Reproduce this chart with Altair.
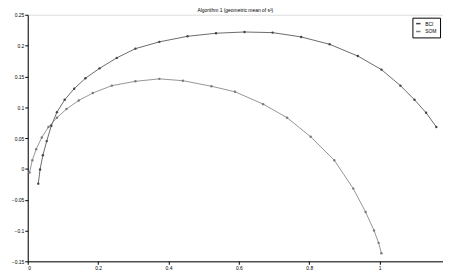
import altair as alt
import pandas as pd

series_names = ["BCI", "SOM"]

bci_x = [0.030, 0.035, 0.043, 0.054, 0.067, 0.083, 0.105, 0.132, 0.164, 0.204, 0.253, 0.306,
         0.374, 0.454, 0.535, 0.616, 0.696, 0.777, 0.858, 0.938, 1.005, 1.059, 1.099, 1.132, 1.161]
bci_y = [-0.024, -0.001, 0.022, 0.045, 0.070, 0.092, 0.112, 0.130, 0.147, 0.163, 0.180, 0.195,
         0.206, 0.215, 0.220, 0.222, 0.221, 0.214, 0.202, 0.183, 0.161, 0.135, 0.112, 0.091, 0.068]

som_x = [0.005, 0.013, 0.024, 0.040, 0.059, 0.083, 0.110, 0.145, 0.185, 0.239, 0.306, 0.374,
         0.441, 0.522, 0.589, 0.669, 0.737, 0.804, 0.871, 0.925, 0.960, 0.984, 0.997, 1.005]
som_y = [-0.006, 0.014, 0.032, 0.051, 0.068, 0.083, 0.097, 0.111, 0.123, 0.135, 0.142, 0.146,
         0.143, 0.134, 0.125, 0.105, 0.083, 0.052, 0.014, -0.032, -0.070, -0.100, -0.120, -0.137]

x_ticks = [0, 0.2, 0.4, 0.6, 0.8, 1]
y_ticks = [-0.15, -0.1, -0.05, 0, 0.05, 0.1, 0.15, 0.2, 0.25]

rows = []
for i, (x, y) in enumerate(zip(bci_x, bci_y)):
    rows.append({"series": series_names[0], "x": x, "y": y, "i": i})
for i, (x, y) in enumerate(zip(som_x, som_y)):
    rows.append({"series": series_names[1], "x": x, "y": y, "i": i})
df = pd.DataFrame(rows)

chart = alt.Chart(df).mark_line(
    strokeWidth=0.8,
    point=alt.OverlayMarkDef(filled=True, size=6),
).encode(
    x=alt.X("x:Q", scale=alt.Scale(domain=[0, 1.18], nice=False, zero=False),
            axis=alt.Axis(values=x_ticks, format="~g", title=None, grid=False, labelFontSize=5,
                          tickSize=3, labelPadding=1, domainColor="#000", tickColor="#000",
                          labelColor="#000")),
    y=alt.Y("y:Q", scale=alt.Scale(domain=[-0.15, 0.25], nice=False, zero=False),
            axis=alt.Axis(values=y_ticks, format="~g", title=None, grid=False, labelFontSize=5,
                          tickSize=3, labelPadding=1, domainColor="#000", tickColor="#000",
                          labelColor="#000")),
    color=alt.Color("series:N", scale=alt.Scale(domain=series_names, range=["#444444", "#7a7a7a"]),
                    legend=alt.Legend(title=None, orient="top-right", labelFontSize=5,
                                      symbolSize=20, symbolType="stroke", strokeColor="#000",
                                      padding=3, rowPadding=2, offset=3)),
    order="i:Q",
).properties(
    width=421,
    height=250,
    title=alt.TitleParams("Algorithm 1 (geometric mean of s²)", fontSize=5, fontWeight="normal",
                          offset=0, color="#000"),
    autosize=alt.AutoSizeParams(type="none"),
    padding={"left": 20, "right": 0, "top": 5, "bottom": 10},
).configure_view(stroke="#000", strokeWidth=0.8).configure(font="Liberation Sans", background="white")

chart.save("out.html", embed_options={"renderer": "svg", "actions": False})
